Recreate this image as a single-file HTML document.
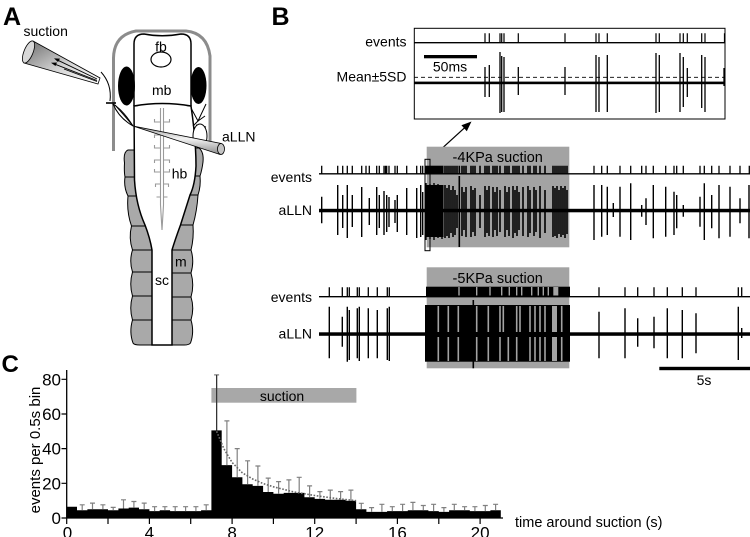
<!DOCTYPE html>
<html><head><meta charset="utf-8">
<style>
html,body{margin:0;padding:0;background:#fff;}
svg{display:block;}
text{font-family:"Liberation Sans",Arial,sans-serif;fill:#000;}
</style></head><body>
<svg width="750" height="537" viewBox="0 0 750 537" xmlns="http://www.w3.org/2000/svg">
<defs>
<linearGradient id="sg" x1="0" y1="0" x2="1" y2="1"><stop offset="0" stop-color="#6a6a6a"/><stop offset="0.55" stop-color="#d4d4d4"/><stop offset="1" stop-color="#ffffff"/></linearGradient>
<linearGradient id="ag" x1="0" y1="0" x2="0" y2="1"><stop offset="0" stop-color="#9a9a9a"/><stop offset="0.45" stop-color="#f2f2f2"/><stop offset="1" stop-color="#8a8a8a"/></linearGradient>
</defs>

<!-- PANEL A -->
<text x="3" y="25" font-size="25" font-weight="bold">A</text>
<text x="23.5" y="36" font-size="14">suction</text>

<path d="M113.5,151 L113.5,58 Q114,35 136,31 L186,31 Q207,33 210,56 L210,146" fill="none" stroke="#8c8c8c" stroke-width="3"/>

<g fill="#a9a9a9" stroke="#000" stroke-width="1">
<path d="M160,150 L128,150 Q123,152 124.5,163 Q124,172 125,177 L160,177 Z"/>
<path d="M160,177 L125,177 Q123.5,187 128,196 L160,196 Z"/>
<path d="M160,196 L128,196 Q126.5,212 131.5,226 L160,226 Z"/>
<path d="M160,226 L131.5,226 Q128.5,238 132.5,250 L160,250 Z"/>
<path d="M160,250 L132.5,250 Q129,261 132.5,272 L160,272 Z"/>
<path d="M160,272 L132.5,272 Q129,284 132.5,296 L160,296 Z"/>
<path d="M160,296 L132.5,296 Q129,308 132.5,320 L160,320 Z"/>
<path d="M160,320 L132.5,320 Q129,332 133,343 Q134,345 140,345 L160,345 Z"/>
</g>
<g fill="#a9a9a9" stroke="#000" stroke-width="1">
<path d="M165,148 L199,148 Q204,152 203,162 Q202,170 200,176 L165,176 Z"/>
<path d="M165,176 L200,176 Q201,186 198,195 L165,195 Z"/>
<path d="M165,195 L198,195 Q197,211 193,225 L165,225 Z"/>
<path d="M165,225 L193,225 Q194,238 191,250 L165,250 Z"/>
<path d="M165,250 L191,250 Q194.5,261 191,273 L165,273 Z"/>
<path d="M165,273 L191,273 Q194.5,285 191,297 L165,297 Z"/>
<path d="M165,297 L191,297 Q194.5,308 191,320 L165,320 Z"/>
<path d="M165,320 L191,320 Q194.5,332 190.5,343 Q189,345 184,345 L165,345 Z"/>
</g>

<path d="M134,106 Q162,101 191,106 Q196,140 196,166 Q195,185 190,195 L180.5,225 Q175,240 172,250 L172,345 L152,345 L152,250 Q150,238 145,225 Q136,205 134.5,180 Z" fill="#fff" stroke="#000" stroke-width="1.5"/>
<path d="M134,106 L134,44 Q134,34 144,34 Q162,37.5 181,34 Q191,34 191,44 L191,106" fill="#fff" stroke="#000" stroke-width="1.5"/>
<path d="M134,106 Q162,101 191,106" fill="none" stroke="#000" stroke-width="1.5"/>

<ellipse cx="126.5" cy="86" rx="8.5" ry="19.5" fill="#000"/>
<ellipse cx="198.5" cy="85.5" rx="8" ry="18.5" fill="#000"/>
<ellipse cx="161" cy="59.5" rx="10" ry="7.5" fill="#fff" stroke="#000" stroke-width="1.2"/>

<g fill="none" stroke="#9a9a9a" stroke-width="1.1">
<path d="M160.5,108 V205 L162,230 L163.5,205 V108"/>
<path d="M160.5,122 h-6 v-3 M163.5,122 h6 v-3 M160.5,135 h-6 v3 M163.5,135 h6 v3 M160.5,148 h-6 v-3 M163.5,148 h6 v-3 M160.5,160 h-6 v3 M163.5,160 h6 v3 M160.5,172 h-6 v-3 M163.5,172 h6 v-3 M160.5,184 h-5 v3 M163.5,184 h5 v3 M160.5,197 h-4 M163.5,197 h4"/>
</g>

<g fill="none" stroke="#000" stroke-width="1">
<path d="M106,103 H116" stroke-width="1.6"/>
<path d="M113,104 Q123,110 133,126"/>
<path d="M113,104 Q119,118 133,126"/>
<path d="M115,105 Q125,116 133,126"/>
<path d="M101,72 Q112,84 110,101"/>
<path d="M191,108 L198,121 L206,104 M198,121 L205,116 M193,126 L198,121 M196,125 L206,127"/>
</g>
<ellipse cx="200" cy="136" rx="7" ry="12" fill="#fff" stroke="#000" stroke-width="1"/>

<path d="M133,126 L221,143.5 L220,154.5 Z" fill="url(#ag)" stroke="#000" stroke-width="0.8"/>
<ellipse cx="221" cy="149" rx="3.5" ry="5.5" fill="#c4c4c4" stroke="#000" stroke-width="0.8"/>
<text x="222" y="141.5" font-size="14">aLLN</text>

<path d="M33,41 L100,78 L98,84 L24,63 Z" fill="url(#sg)" stroke="#000" stroke-width="0.8"/>
<ellipse cx="28.5" cy="52" rx="4.5" ry="11.8" transform="rotate(22 28.5 52)" fill="#d8d8d8" stroke="#000" stroke-width="0.8"/>
<g stroke="#000" stroke-width="0.9" fill="none">
<path d="M97,80.5 L54,63.8"/>
<path d="M97,79 L57,59.8"/>
<path d="M97,81.5 L64,69"/>
</g>
<polygon points="51,62.8 57,62.5 55.5,66" fill="#000"/>
<polygon points="54,58.4 60,58.6 58,62" fill="#000"/>

<text x="161" y="51.5" font-size="14" text-anchor="middle">fb</text>
<text x="161.7" y="95" font-size="14" text-anchor="middle">mb</text>
<text x="171.7" y="178.5" font-size="14">hb</text>
<text x="155" y="285" font-size="14">sc</text>
<text x="175" y="266.5" font-size="14">m</text>

<!-- PANEL B -->
<text x="271.5" y="25" font-size="25" font-weight="bold">B</text>

<rect x="414.3" y="28.3" width="310.7" height="90.7" fill="#fff" stroke="#000" stroke-width="1"/>
<text x="406.5" y="46.7" font-size="14" text-anchor="end">events</text>
<text x="406.5" y="81.5" font-size="14" text-anchor="end">Mean±5SD</text>
<path d="M414,42.7 H725" stroke="#000" stroke-width="1.3"/>
<path d="M485,33.3V42.7 M489.3,33.3V42.7 M500,33.3V42.7 M501.7,33.3V42.7 M504,33.3V42.7 M518.3,33.3V42.7 M565,33.3V42.7 M596,33.3V42.7 M599,33.3V42.7 M607.3,33.3V42.7 M656,33.3V42.7 M659.3,33.3V42.7 M680,33.3V42.7 M683.3,33.3V42.7 M687.3,33.3V42.7 M701.7,33.3V42.7 M705,33.3V42.7 M724.5,33.3V42.7" stroke="#000" stroke-width="1.2"/>
<rect x="424" y="55" width="53" height="3.3" fill="#000"/>
<text x="450" y="71.7" font-size="14" text-anchor="middle">50ms</text>
<path d="M414,77.3 H725" stroke="#000" stroke-width="0.8" stroke-dasharray="4,3"/>
<rect x="414.5" y="81.6" width="310" height="2.6" fill="#000"/>
<path d="M485,67V97 M489.3,65V97 M500,52V113 M501.7,56V112 M504,57V112 M518.3,67V95 M565,67V95 M596,55V112 M599,57V112 M607.3,55V112 M656,53V113 M659.3,55V112 M680,53V112 M683.3,57V107 M687.3,68V97 M701.7,55V108 M705,57V112 M724,68V86" stroke="#000" stroke-width="1.3"/>

<path d="M430,159.3 L466,126.5" stroke="#000" stroke-width="1.2"/>
<polygon points="471.5,121.5 466.8,131.2 461.4,125.2" fill="#000"/>

<!-- middle trace -->
<rect x="426.7" y="146.7" width="142.6" height="100.6" fill="#a3a3a3"/>
<text x="497.7" y="162" font-size="14.5" text-anchor="middle">-4KPa suction</text>
<text x="312" y="182" font-size="14" text-anchor="end">events</text>
<text x="312" y="215" font-size="14" text-anchor="end">aLLN</text>
<path d="M319,173.8 H750" stroke="#000" stroke-width="1.3"/>
<path d="M321.7,165.7V173.8 M337.7,165.7V173.8 M342.7,165.7V173.8 M347.3,165.7V173.8 M352.3,165.7V173.8 M361.7,165.7V173.8 M366,165.7V173.8 M369.3,165.7V173.8 M376.7,165.7V173.8 M379.3,165.7V173.8 M384,165.7V173.8 M385.5,165.7V173.8 M386.7,165.7V173.8 M389,165.7V173.8 M395,165.7V173.8 M397.3,165.7V173.8 M406.7,165.7V173.8 M416.7,165.7V173.8 M420.7,165.7V173.8 M422.7,165.7V173.8 M594,165.7V173.8 M601.7,165.7V173.8 M607.3,165.7V173.8 M620,165.7V173.8 M630.7,165.7V173.8 M641.7,165.7V173.8 M646,165.7V173.8 M653.3,165.7V173.8 M665.7,165.7V173.8 M674,165.7V173.8 M676.7,165.7V173.8 M683.3,165.7V173.8 M700,165.7V173.8 M704.3,165.7V173.8 M711.7,165.7V173.8 M719,165.7V173.8 M730,165.7V173.8 M740,165.7V173.8 M749.3,165.7V173.8" stroke="#000" stroke-width="1.3"/>
<rect x="425" y="165.7" width="18.5" height="8.1" fill="#000"/>
<path d="M445,165.7V173.8 M447,165.7V173.8 M449,165.7V173.8 M451,165.7V173.8 M453,165.7V173.8 M455,165.7V173.8 M457,165.7V173.8 M459.3,165.7V173.8 M462,165.7V173.8 M464,165.7V173.8 M466,165.7V173.8 M471,165.7V173.8 M473,165.7V173.8 M475,165.7V173.8 M480,165.7V173.8 M485,165.7V173.8 M487,165.7V173.8 M489,165.7V173.8 M493,165.7V173.8 M495,165.7V173.8 M497,165.7V173.8 M500,165.7V173.8 M505,165.7V173.8 M507,165.7V173.8 M509,165.7V173.8 M513,165.7V173.8 M515,165.7V173.8 M517,165.7V173.8 M519,165.7V173.8 M523,165.7V173.8 M528,165.7V173.8 M530,165.7V173.8 M534,165.7V173.8 M536,165.7V173.8 M540,165.7V173.8 M545,165.7V173.8 M553,165.7V173.8 M555,165.7V173.8 M557,165.7V173.8 M559,165.7V173.8 M561,165.7V173.8 M563,165.7V173.8 M565,165.7V173.8 M567,165.7V173.8" stroke="#000" stroke-width="1.6"/>
<rect x="319" y="208.8" width="431" height="3.5" fill="#000"/>
<path d="M321.7,196.7V223.3 M337.7,185V235 M342.7,195V228 M347.3,185V238 M352.3,195V227 M361.7,187V237 M369.3,198V225 M376.7,187V235 M379.3,195V228 M384,191V235 M386.7,195V232 M389,197V227 M395,200V223 M397.3,195V232 M406.7,188V235 M416.7,188V238 M420.7,185V237 M422.7,192V235 M594,185V240 M601.7,185V236.7 M607.3,186.7V235 M613.3,203V217 M620,186.7V236.7 M630.7,183.3V240 M641.7,205V216.7 M646,198.3V225 M653.3,185V238.3 M665.7,186.7V236.7 M674,191.7V235 M676.7,195V228.3 M683.3,205V216.7 M700,196.7V226.7 M704.3,183.3V240 M711.7,195V228.3 M719,185V238.3 M730,186.7V236.7 M740,198.3V223.3 M749,185V238.3" stroke="#000" stroke-width="1.4"/>
<rect x="425" y="185" width="18.5" height="52" fill="#000"/>
<path d="M426,183V240 M430,184V239 M434,183V240 M438,184V238 M442,185V239" stroke="#000" stroke-width="1.4"/>
<path d="M445,185V238 M447,188V236 M449,185V238 M451,190V233 M453,186V237 M455,190V235 M457,195V228 M459.3,176V247 M462,187V236 M464,192V230 M466,187V237 M471,186V237 M473,190V232 M475,188V236 M480,195V228 M485,186V237 M487,190V233 M489,186V236 M493,187V237 M495,192V230 M497,187V236 M500,190V232 M505,186V237 M507,192V230 M509,187V236 M513,186V238 M515,190V233 M517,186V236 M519,192V230 M523,187V236 M528,186V237 M530,190V233 M534,187V236 M536,190V232 M540,186V238 M545,190V233 M553,186V237 M555,188V236 M557,186V238 M559,190V234 M561,186V237 M563,188V235 M565,186V238 M567,190V234" stroke="#000" stroke-width="1.6"/>
<rect x="425" y="159.3" width="5" height="91.4" fill="none" stroke="#000" stroke-width="1"/>

<!-- bottom trace -->
<rect x="426.7" y="267.3" width="142.6" height="101" fill="#a3a3a3"/>
<text x="497.7" y="283" font-size="14.5" text-anchor="middle">-5KPa suction</text>
<text x="312" y="302" font-size="14" text-anchor="end">events</text>
<text x="312" y="338.5" font-size="14" text-anchor="end">aLLN</text>
<path d="M319,296.7 H750" stroke="#000" stroke-width="1.3"/>
<path d="M329.3,287.3V296.7 M342.3,287.3V296.7 M347.3,287.3V296.7 M349.3,287.3V296.7 M357.3,287.3V296.7 M359.3,287.3V296.7 M368.3,287.3V296.7 M377.3,287.3V296.7 M387.3,287.3V296.7 M389.3,287.3V296.7 M599,287.3V296.7 M625,287.3V296.7 M637.7,287.3V296.7 M654,287.3V296.7 M667.3,287.3V296.7 M682.3,287.3V296.7 M696,287.3V296.7 M738.3,287.3V296.7 M741.7,287.3V296.7" stroke="#000" stroke-width="1.3"/>
<rect x="426" y="286.7" width="144" height="10" fill="#000"/>
<path d="M459,287V295.5 M476.7,287V295.5 M490,287V295.5 M501.7,287V295.5 M509.3,287V295.5 M516.7,287V295.5 M521.7,287V295.5 M531.7,287V295.5 M538.3,287V295.5 M543.3,287V295.5 M548.3,287V295.5" stroke="#a3a3a3" stroke-width="1.4"/>
<rect x="553.3" y="287" width="5" height="8.5" fill="#a3a3a3"/>
<rect x="319" y="332.3" width="431" height="3.5" fill="#000"/>
<path d="M329.3,306.7V358.3 M342.3,316.7V346.7 M347.3,306.7V361.7 M349.3,310V360 M357.3,308.3V358.3 M359.3,306.7V361 M368.3,308.3V358.3 M377.3,310V358.3 M387.3,308.3V360 M389.3,306.7V361 M599,311.7V358.3 M625,308.3V358.3 M637.7,318.3V346.7 M654,316.7V348.3 M667.3,308.3V358.3 M682.3,310V358.3 M696,313.3V353.3 M738.3,306.7V360 M741.7,328V338" stroke="#000" stroke-width="1.4"/>
<rect x="425" y="305" width="145" height="56.7" fill="#000"/>
<path d="M438.3,306V332 M438.3,337V361 M448.3,306V332 M448.3,337V361 M458.3,306V332 M458.3,337V361 M476.7,306V332 M476.7,337V361 M488.3,306V332 M488.3,337V361 M500,306V332 M500,337V361 M503.3,306V332 M508.3,337V361 M516.7,306V332 M516.7,337V361 M520,306V332 M530,306V332 M530,337V361 M535,306V332 M535,337V361 M540,306V332 M540,337V361 M545,306V332 M545,337V361 M561.7,306V332 M561.7,337V361" stroke="#a3a3a3" stroke-width="1.6"/>
<rect x="552" y="306" width="5" height="26" fill="#a3a3a3"/>
<rect x="552" y="337" width="5" height="24" fill="#a3a3a3"/>
<path d="M473.3,300V368.3" stroke="#000" stroke-width="1.6"/>
<rect x="659.3" y="366.8" width="90.7" height="3.4" fill="#000"/>
<text x="704" y="385" font-size="14" text-anchor="middle">5s</text>

<!-- PANEL C -->
<text x="1.5" y="372" font-size="24" font-weight="bold">C</text>
<rect x="211.4" y="388" width="145" height="14.7" fill="#a8a8a8"/>
<text x="282" y="401" font-size="14" text-anchor="middle">suction</text>

<path d="M66.7,518 V506.7 H77 V510.2 H87.4 V509.3 H97.7 V509.3 H108 V510.2 H118.4 V508.5 H128.7 V507.6 H139 V509.3 H149.4 V511.1 H159.7 V510.2 H170.1 V511.1 H180.4 V511.1 H190.7 V511.1 H201.1 V510.2 H211.4 V430.4 H221.7 V465.1 H232.1 V477.3 H242.4 V484.2 H252.7 V485.9 H263.1 V492 H273.4 V493.7 H283.7 V492.9 H294.1 V492.9 H304.4 V497.2 H314.7 V498.9 H325.1 V499.8 H335.4 V499.8 H345.7 V500.7 H356.1 V509.3 H366.4 V511.9 H376.8 V511.9 H387.1 V511.1 H397.4 V511.1 H407.8 V510.2 H418.1 V510.2 H428.4 V511.1 H438.8 V511.9 H449.1 V510.2 H459.4 V510.2 H469.8 V511.1 H480.1 V511.1 H490.4 V510.2 H500.8 V518 Z" fill="#000"/>

<path fill="none" stroke="#808080" stroke-width="1.2" d="M82.2,510.2V504.8M79.7,504.8H84.7 M92.5,509.3V503.1M90,503.1H95 M102.9,509.3V504.8M100.4,504.8H105.4 M113.2,510.2V507.4M110.7,507.4H115.7 M123.5,508.5V499.8M121,499.8H126 M133.9,507.6V501.5M131.4,501.5H136.4 M144.2,509.3V503.1M141.7,503.1H146.7 M154.6,511.1V506.7M152.1,506.7H157.1 M164.9,510.2V506.7M162.4,506.7H167.4 M175.2,511.1V506.7M172.7,506.7H177.7 M185.6,511.1V506.7M183.1,506.7H188.1 M195.9,511.1V506.7M193.4,506.7H198.4 M206.2,510.2V504.8M203.7,504.8H208.7 M216.6,430.4V374.9M214.1,374.9H219.1 M226.9,465.1V420.9M224.4,420.9H229.4 M237.2,477.3V448.6M234.7,448.6H239.7 M247.6,484.2V460.8M245.1,460.8H250.1 M257.9,485.9V466M255.4,466H260.4 M268.2,492V478.1M265.7,478.1H270.7 M278.6,493.7V481.6M276.1,481.6H281.1 M288.9,492.9V479.9M286.4,479.9H291.4 M299.2,492.9V477.3M296.7,477.3H301.7 M309.6,497.2V485.9M307.1,485.9H312.1 M319.9,498.9V491.6M317.4,491.6H322.4 M330.3,499.8V490.1M327.8,490.1H332.8 M340.6,499.8V491.6M338.1,491.6H343.1 M350.9,500.7V490.1M348.4,490.1H353.4 M361.3,509.3V503.3M358.8,503.3H363.8 M371.6,511.9V507.6M369.1,507.6H374.1 M381.9,511.9V504.3M379.4,504.3H384.4 M392.3,511.1V506.7M389.8,506.7H394.8 M402.6,511.1V504.3M400.1,504.3H405.1 M412.9,510.2V502.4M410.4,502.4H415.4 M423.3,510.2V505.5M420.8,505.5H425.8 M433.6,511.1V504.3M431.1,504.3H436.1 M443.9,511.9V507.6M441.4,507.6H446.4 M454.3,510.2V504.3M451.8,504.3H456.8 M464.6,510.2V506.7M462.1,506.7H467.1 M474.9,511.1V506.7M472.4,506.7H477.4 M485.3,511.1V505.5M482.8,505.5H487.8 M495.6,510.2V504.3M493.1,504.3H498.1"/>
<path d="M216.6,430.4V374.9" stroke="#333" stroke-width="1.2"/>

<polyline points="216.6,431.3 223.8,448.6 232.1,462.5 242.4,472.9 252.7,479 263,483.5 273.4,486.8 294.1,492 314.7,495.5 335.4,498.4 356.1,500.7" fill="none" stroke="#666" stroke-width="1.6" stroke-dasharray="1.6,1.6"/>

<path d="M66.7,518.5 V370 M66.7,518 H503" stroke="#000" stroke-width="1.3" fill="none"/>
<path d="M61.5,518H66.7 M61.5,483.3H66.7 M61.5,448.6H66.7 M61.5,414H66.7 M61.5,379.3H66.7" stroke="#000" stroke-width="1.2"/>
<path d="M66.7,518V524 M108,518V524 M149.4,518V524 M190.7,518V524 M232.1,518V524 M273.4,518V524 M314.7,518V524 M356.1,518V524 M397.4,518V524 M438.8,518V524 M480.1,518V524" stroke="#000" stroke-width="1.2"/>
<g font-size="17" text-anchor="end">
<text x="61" y="385.5">80</text>
<text x="61" y="420">60</text>
<text x="61" y="454.7">40</text>
<text x="61" y="489.3">20</text>
<text x="61" y="524">0</text>
</g>
<g font-size="17" text-anchor="middle">
<text x="67.5" y="538.5">0</text>
<text x="149.4" y="538.5">4</text>
<text x="232.1" y="538.5">8</text>
<text x="314.7" y="538.5">12</text>
<text x="397.4" y="538.5">16</text>
<text x="480.1" y="538.5">20</text>
</g>
<text x="0" y="0" font-size="15" text-anchor="middle" transform="translate(40,450) rotate(-90)">events per 0.5s bin</text>
<text x="515" y="527" font-size="14.5">time around suction (s)</text>
</svg>
</body></html>
